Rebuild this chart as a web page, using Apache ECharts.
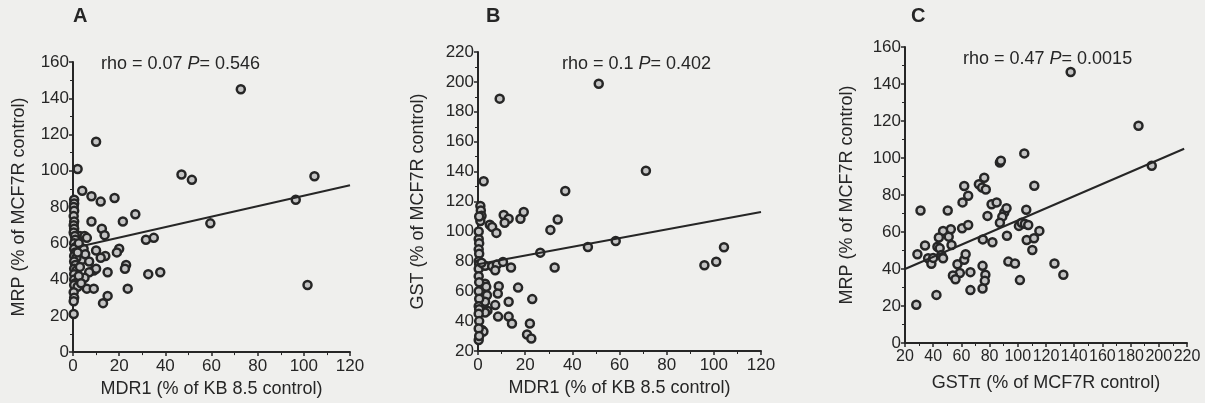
<!DOCTYPE html>
<html>
<head>
<meta charset="utf-8">
<script src="https://cdn.jsdelivr.net/npm/echarts@6/dist/echarts.min.js"></script>
<style>
  html, body { margin: 0; padding: 0; background: #efefed; }
  #chart { width: 1205px; height: 403px; }
</style>
</head>
<body>
<div id="chart"></div>
<script>
// panel A: MDR1 vs MRP
const pointsA = [
  [72.7, 145], [10, 116], [2, 101], [47, 98], [51.5, 95], [104.6, 97], [96.5, 84], [59.5, 71], [101.6, 37],
  [4, 89], [8, 86], [12, 83], [18, 85], [27, 76], [8, 72], [21.6, 72], [12.5, 68], [13.7, 64.5],
  [31.6, 62], [35, 63], [20, 57], [19, 55], [14, 53], [12, 52], [10, 56], [23, 48], [22.5, 46],
  [15, 44], [32.6, 43], [37.8, 44], [23.7, 35], [13, 27], [15, 31], [6, 35], [9, 35], [9, 45],
  [10, 46], [7, 44], [5, 41], [3, 64], [5, 64], [6, 63], [4.6, 57], [4, 51], [7, 50], [5.3, 54],
  [0.5, 84], [0.5, 82], [0.3, 80], [0.5, 78], [0.3, 75], [0.5, 72], [0.3, 70], [0.5, 68], [0.3, 66],
  [0.8, 64], [1, 62], [0.5, 60], [1.2, 58], [0.5, 57], [1, 55], [0.5, 53], [1.5, 52], [0.5, 50],
  [1, 48], [0.5, 46], [1.5, 45], [0.5, 43], [0.5, 40], [1, 38], [0.5, 37], [2, 36], [0.3, 33],
  [0.5, 30], [0.3, 28], [0.3, 21], [2.5, 60], [2, 55], [3, 47], [2.5, 42], [3.5, 38]
]
const lineA = [[2, 58], [120, 92]]

// panel B: MDR1 vs GST
const pointsB = [
  [51.2, 198.8], [9.2, 188.8], [71.2, 140.6], [2.4, 133.6], [37, 127], [1, 117], [1.2, 114], [1.5, 110.4],
  [1, 107], [10.9, 111], [13, 108.5], [11.3, 105.8], [18, 108.5], [19.4, 113], [33.8, 108], [30.7, 101],
  [5, 104.4], [6, 103], [7.8, 99], [0.3, 95], [0.5, 92], [0.3, 88], [0.5, 85], [26.4, 85.8], [46.6, 89.6],
  [58.4, 93.6], [0.3, 80], [0.5, 78], [0.3, 75], [3, 77], [6, 76.7], [8, 77.8], [10.6, 79.6], [14, 75.8],
  [32.5, 75.8], [7.3, 74], [3, 65], [3.5, 62.9], [8.8, 63.3], [17, 62.4], [8.4, 58.4], [3.8, 57.3],
  [3, 53], [23, 54.7], [13, 53], [7.3, 50.7], [4, 47], [3, 45.8], [8.5, 43], [13, 43], [14.4, 38.4],
  [22, 38.4], [1.7, 34], [2.3, 33], [20.8, 31], [22.6, 28.4], [0.3, 27.3], [0.3, 70], [0.5, 66],
  [0.3, 60], [0.5, 55], [0.3, 50], [0.5, 48], [0.3, 45], [0.5, 40], [0.3, 35], [0.5, 30], [0.3, 100],
  [0.5, 110], [1.5, 79], [96, 77.3], [101, 79.7], [104.3, 89.4]
]
const lineB = [[0, 78], [120, 113]]

// panel C: GSTpi vs MRP
const pointsC = [
  [137.5, 146.5], [185.6, 117.4], [195, 95.8], [104.6, 102.5], [87.3, 97.6], [88, 98.5], [76.2, 89.3],
  [72.4, 85.8], [74.7, 84], [77.3, 83], [62, 84.9], [64.8, 79.6], [60.8, 76], [111.7, 85], [31, 71.6],
  [50.3, 71.6], [81.4, 75], [85, 76], [78.5, 68.7], [90.4, 70.5], [92, 72.8], [89, 68.3], [87.3, 65],
  [106, 72], [60.5, 62], [64.8, 63.8], [52.5, 61.5], [47, 60.6], [44, 57], [51, 57.5], [28.8, 48],
  [34.2, 52.7], [36.4, 45.8], [38.7, 42.8], [40, 46], [43, 52], [44.6, 51.2], [45.8, 47.6], [47, 45.8],
  [53, 53], [57.2, 42.6], [58.9, 37.8], [54, 36.5], [55.8, 34.5], [66.4, 38.3], [66.4, 28.6], [62, 45],
  [63, 48], [75.2, 56], [75, 41.7], [77, 36.9], [76.6, 33.6], [75, 29.5], [82, 54.5], [92.3, 58],
  [93.3, 44], [98, 43], [101.5, 34], [100.8, 63.3], [102.7, 65], [105, 64.4], [107.4, 63.8], [106.3, 55.7],
  [110.3, 50.3], [111.5, 56.6], [115.3, 60.6], [126, 43], [132.3, 36.9], [28, 20.7], [42.3, 26]
]
const lineC = [[20, 40], [218, 105]]

const font = 'Liberation Sans, Arial, sans-serif'
const ink = '#262626'

function xAxis(idx, min, max, name, gap, size) {
  return {
    gridIndex: idx, type: 'value', min, max, interval: 20,
    name, nameLocation: 'middle', nameGap: gap,
    nameTextStyle: { fontFamily: font, fontSize: 18, color: ink },
    axisLine: { show: true, onZero: false, lineStyle: { color: ink, width: 2 } },
    axisTick: { show: true, length: 4, lineStyle: { color: ink, width: 1.5 } },
    minorTick: { show: true, splitNumber: 2, length: 3, lineStyle: { color: ink } },
    axisLabel: { fontFamily: font, fontSize: size, color: ink, margin: 6 },
    splitLine: { show: false }
  }
}

function yAxis(idx, min, max, name, gap) {
  return {
    gridIndex: idx, type: 'value', min, max, interval: 20,
    name, nameLocation: 'middle', nameGap: gap,
    nameTextStyle: { fontFamily: font, fontSize: 18, color: ink },
    axisLine: { show: true, onZero: false, lineStyle: { color: ink, width: 2 } },
    axisTick: { show: true, length: 4, lineStyle: { color: ink, width: 1.5 } },
    minorTick: { show: true, splitNumber: 2, length: 3, lineStyle: { color: ink } },
    axisLabel: { fontFamily: font, fontSize: 17, color: ink, margin: 4 },
    splitLine: { show: false }
  }
}

function dots(idx, data) {
  return {
    type: 'scatter', xAxisIndex: idx, yAxisIndex: idx, data,
    symbolSize: 8,
    itemStyle: { color: '#c4c4c4', borderColor: '#262626', borderWidth: 2.5, opacity: 1 }
  }
}

function fit(idx, data) {
  return {
    type: 'line', xAxisIndex: idx, yAxisIndex: idx, data,
    symbol: 'none', lineStyle: { color: ink, width: 2 }
  }
}

function letter(x, y, txt) {
  return {
    type: 'text', left: x, top: y,
    style: { text: txt, font: 'bold 20px ' + font, fill: ink }
  }
}

function stat(x, y, rho, p) {
  return {
    type: 'text', left: x, top: y,
    style: {
      text: '{n|rho = ' + rho + ' }{i|P}{n|= ' + p + '}',
      rich: {
        n: { fontFamily: font, fontSize: 18, fill: ink },
        i: { fontFamily: font, fontSize: 18, fontStyle: 'italic', fill: ink }
      }
    }
  }
}

const chart = echarts.init(document.getElementById('chart'))
chart.setOption({
  backgroundColor: '#efefed',
  animation: false,
  grid: [
    { left: 73, top: 62, width: 277, height: 293 },
    { left: 478, top: 52, width: 283, height: 299 },
    { left: 905, top: 47, width: 282, height: 296 }
  ],
  xAxis: [
    xAxis(0, 0, 120, 'MDR1 (% of KB 8.5 control)', 22, 17),
    xAxis(1, 0, 120, 'MDR1 (% of KB 8.5 control)', 27, 17),
    xAxis(2, 20, 220, 'GSTπ (% of MCF7R control)', 31, 16)
  ],
  yAxis: [
    yAxis(0, 0, 160, 'MRP (% of MCF7R control)', 45),
    yAxis(1, 20, 220, 'GST (% of MCF7R control)', 51),
    yAxis(2, 0, 160, 'MRP (% of MCF7R control)', 49)
  ],
  series: [
    fit(0, lineA), dots(0, pointsA),
    fit(1, lineB), dots(1, pointsB),
    fit(2, lineC), dots(2, pointsC)
  ],
  graphic: [
    letter(73, 6, 'A'),
    letter(486, 6, 'B'),
    letter(911, 6, 'C'),
    stat(101, 55, '0.07', '0.546'),
    stat(562, 55, '0.1', '0.402'),
    stat(963, 50, '0.47', '0.0015')
  ]
})
</script>
</body>
</html>
